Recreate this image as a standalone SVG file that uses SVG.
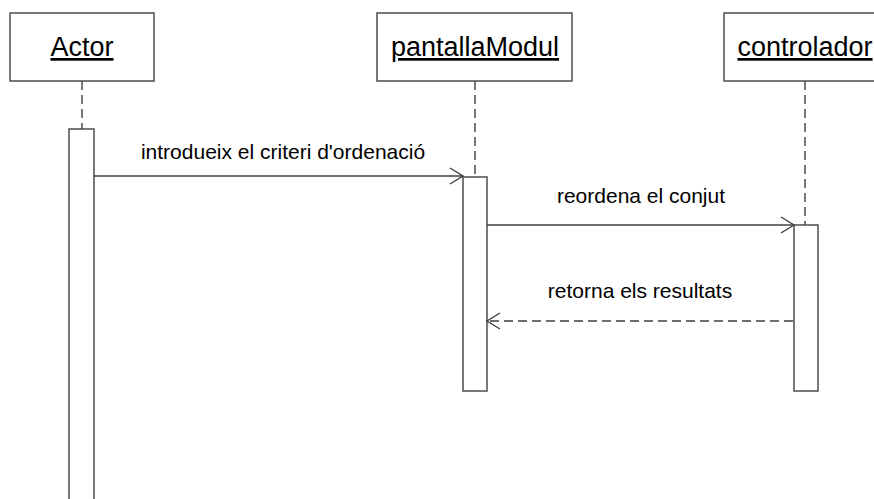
<svg xmlns="http://www.w3.org/2000/svg" width="874" height="499" viewBox="0 0 874 499">
<defs>
<style>
.box{fill:#fff;stroke:#404040;stroke-width:1.4}
.act{fill:#fff;stroke:#404040;stroke-width:1.4}
.life{stroke:#404040;stroke-width:1.4;stroke-dasharray:9,5;fill:none}
.msg{stroke:#404040;stroke-width:1.4;fill:none}
.ret{stroke:#404040;stroke-width:1.4;fill:none;stroke-dasharray:9,5}
.head{stroke:#404040;stroke-width:1.4;fill:none}
.title{font-family:"Liberation Sans",Arial,sans-serif;font-size:27px;fill:#000;text-anchor:middle;text-decoration:underline}
.lbl{font-family:"Liberation Sans",Arial,sans-serif;font-size:21px;fill:#000;text-anchor:middle}
</style>
</defs>
<rect width="874" height="499" fill="#fff"/>
<g id="actor">
<rect class="box" x="10" y="13" width="144" height="68"/>
<text class="title" x="82" y="56">Actor</text>
<line class="life" x1="82" y1="81" x2="82" y2="129"/>
<rect class="act" x="69" y="129" width="25" height="380"/>
</g>
<g id="pantallaModul">
<rect class="box" x="377" y="13" width="195" height="68"/>
<text class="title" x="475" y="56">pantallaModul</text>
<line class="life" x1="475" y1="81" x2="475" y2="177"/>
<rect class="act" x="463" y="177" width="24" height="214"/>
</g>
<g id="controlador">
<rect class="box" x="724" y="13" width="162" height="68"/>
<text class="title" x="805" y="56">controlador</text>
<line class="life" x1="805" y1="81" x2="805" y2="225"/>
<rect class="act" x="794" y="225" width="24" height="166"/>
</g>
<g id="connectors">
<line class="msg" x1="94" y1="176" x2="463" y2="176"/>
<polyline class="head" points="450,168 463,176 450,184"/>
<text class="lbl" x="283" y="159">introdueix el criteri d'ordenació</text>
<line class="msg" x1="487" y1="225" x2="794" y2="225"/>
<polyline class="head" points="781,217 794,225 781,233"/>
<text class="lbl" x="641" y="203">reordena el conjut</text>
<line class="ret" x1="793" y1="321" x2="488" y2="321"/>
<polyline class="head" points="500,313 487,321 500,329"/>
<text class="lbl" x="640" y="298">retorna els resultats</text>
</g>
</svg>
